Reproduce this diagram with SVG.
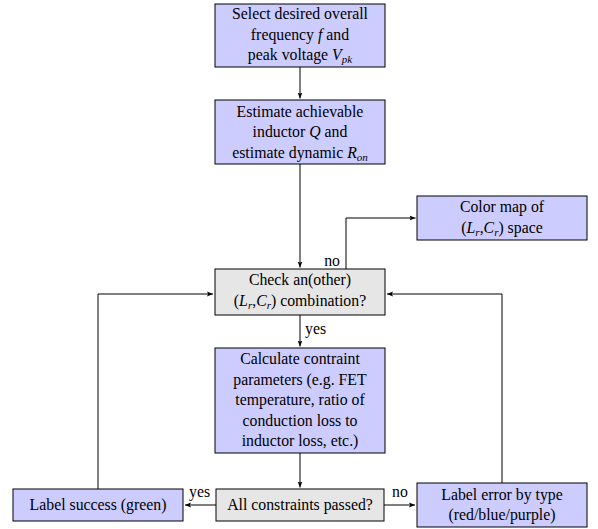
<svg xmlns="http://www.w3.org/2000/svg" width="598" height="529" viewBox="0 0 598 529" font-family="'Liberation Serif', 'Times New Roman', serif">
<defs>
<marker id="arr" markerWidth="8" markerHeight="8" refX="6" refY="3" orient="auto" markerUnits="userSpaceOnUse">
<path d="M0,0.6 L6,3 L0,5.4 L1.2,3 Z" fill="#000"/>
</marker>
<style>
.blue{fill:#ccccff;stroke:#000;stroke-width:1}
.gray{fill:#e6e6e6;stroke:#000;stroke-width:1}
text{font-family:'Liberation Serif','Times New Roman',serif;font-size:15.8px;fill:#000}
.c{text-anchor:middle}
.i{font-style:italic}
.s{font-size:11px}
.ln{fill:none;stroke:#000;stroke-width:1;marker-end:url(#arr)}
</style>
</defs>
<rect width="598" height="529" fill="#fff"/>
<g id="connectors">
<path class="ln" d="M300,67 V98.5"/>
<path class="ln" d="M300,164 V267.5"/>
<path class="ln" d="M346,269 V218 H415.5"/>
<path class="ln" d="M300,315 V346.5"/>
<path class="ln" d="M300,453 V487.5"/>
<path class="ln" d="M216,505 H185"/>
<path class="ln" d="M384,505 H415"/>
<path class="ln" d="M98,489 V294 H213"/>
<path class="ln" d="M502,483 V294 H387"/>
<text x="340" y="266" text-anchor="end">no</text>
<text x="305" y="334">yes</text>
<text x="189" y="497">yes</text>
<text x="392" y="497">no</text>
</g>
<g id="n1">
<rect class="blue" x="215" y="4" width="170" height="63"/>
<text class="c" x="300" y="19">Select desired overall</text>
<text class="c" x="300" y="39.5">frequency <tspan class="i">f</tspan> and</text>
<text class="c" x="300" y="60">peak voltage <tspan class="i">V</tspan><tspan class="i s" dy="3">pk</tspan></text>
</g>
<g id="n2">
<rect class="blue" x="215" y="100" width="170" height="64"/>
<text class="c" x="300" y="116.5">Estimate achievable</text>
<text class="c" x="300" y="137">inductor <tspan class="i">Q</tspan> and</text>
<text class="c" x="300" y="157.5">estimate dynamic <tspan class="i">R</tspan><tspan class="i s" dy="3">on</tspan></text>
</g>
<g id="n3">
<rect class="gray" x="215" y="269" width="170" height="46"/>
<text class="c" x="300" y="285">Check an(other)</text>
<text class="c" x="300" y="305.5">(<tspan class="i">L</tspan><tspan class="i s" dy="3">r</tspan><tspan dy="-3">,</tspan><tspan class="i">C</tspan><tspan class="i s" dy="3">r</tspan><tspan dy="-3">) combination?</tspan></text>
</g>
<g id="n4">
<rect class="blue" x="417" y="196" width="170" height="44"/>
<text class="c" x="502" y="212">Color map of</text>
<text class="c" x="502" y="232.5">(<tspan class="i">L</tspan><tspan class="i s" dy="3">r</tspan><tspan dy="-3">,</tspan><tspan class="i">C</tspan><tspan class="i s" dy="3">r</tspan><tspan dy="-3">) space</tspan></text>
</g>
<g id="n5">
<rect class="blue" x="215" y="348" width="170" height="105"/>
<text class="c" x="300" y="364">Calculate contraint</text>
<text class="c" x="300" y="384.5">parameters (e.g. FET</text>
<text class="c" x="300" y="405">temperature, ratio of</text>
<text class="c" x="300" y="425.5">conduction loss to</text>
<text class="c" x="300" y="446">inductor loss, etc.)</text>
</g>
<g id="n6">
<rect class="gray" x="216" y="489" width="168" height="32"/>
<text class="c" x="300" y="509.5">All constraints passed?</text>
</g>
<g id="n7">
<rect class="blue" x="13" y="489" width="170" height="32"/>
<text class="c" x="98" y="509.5">Label success (green)</text>
</g>
<g id="n8">
<rect class="blue" x="417" y="483" width="170" height="44"/>
<text class="c" x="502" y="499.5">Label error by type</text>
<text class="c" x="502" y="520">(red/blue/purple)</text>
</g>
</svg>
